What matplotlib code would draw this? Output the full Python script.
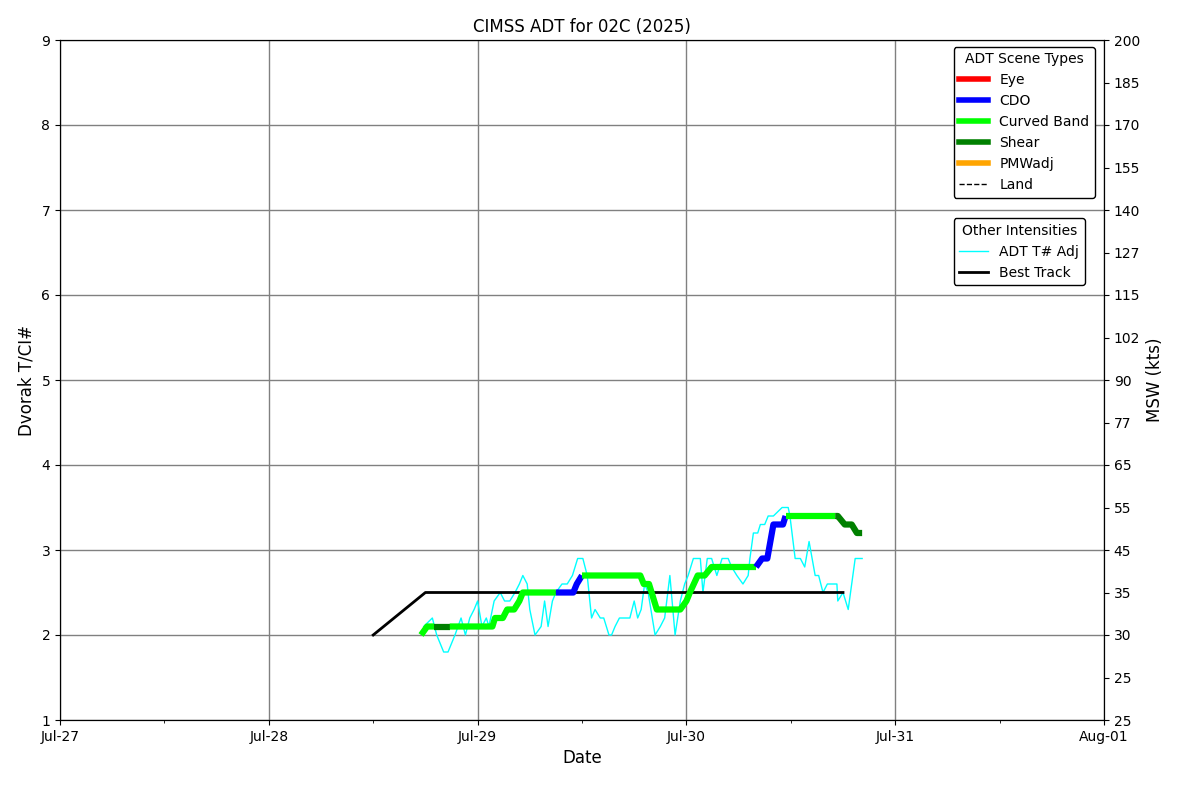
import numpy as np
import pandas as pd
import matplotlib
matplotlib.use("Agg")
import matplotlib.pyplot as plt
import matplotlib.dates as mdates
from matplotlib.lines import Line2D

# hours after 2025-07-27 00 UTC
start = pd.Timestamp("2025-07-27 00:00")

# raw ADT T# (adjusted)
tadj_hours = [41.8, 42.8, 43.3, 44.1, 44.6, 45.4, 46.1, 46.6, 47.1, 47.6, 48.0, 48.5,
              49.0, 49.3, 49.9, 50.6, 51.1, 51.7, 52.3, 52.8, 53.2, 53.7, 54.0, 54.6,
              55.3, 55.7, 56.1, 56.6, 57.0, 57.7, 58.3, 58.9, 59.2, 59.5, 60.1, 60.6,
              60.9, 61.1, 61.5, 62.1, 62.5, 63.1, 63.4, 63.8, 64.3, 64.9, 65.5, 66.0,
              66.4, 66.8, 67.2, 67.6, 68.4, 69.0, 69.5, 70.1, 70.7, 71.3, 71.8, 72.2,
              72.8, 73.6, 73.9, 74.4, 74.9, 75.5, 76.1, 76.8, 77.2, 77.8, 78.5, 79.1,
              79.3, 79.7, 80.2, 80.5, 81.0, 81.4, 82.0, 82.5, 83.0, 83.7, 83.9, 84.5,
              85.1, 85.6, 86.1, 86.8, 87.2, 87.7, 88.2, 88.9, 89.3, 89.4, 90.0, 90.6,
              91.0, 91.4, 92.2]
tadj_vals = [2.1, 2.2, 2.0, 1.8, 1.8, 2.0, 2.2, 2.0, 2.2, 2.3, 2.4, 2.1,
             2.2, 2.1, 2.4, 2.5, 2.4, 2.4, 2.5, 2.6, 2.7, 2.6, 2.3, 2.0,
             2.1, 2.4, 2.1, 2.4, 2.5, 2.6, 2.6, 2.7, 2.8, 2.9, 2.9, 2.7,
             2.4, 2.2, 2.3, 2.2, 2.2, 2.0, 2.0, 2.1, 2.2, 2.2, 2.2, 2.4,
             2.2, 2.3, 2.6, 2.5, 2.0, 2.1, 2.2, 2.7, 2.0, 2.4, 2.6, 2.7,
             2.9, 2.9, 2.5, 2.9, 2.9, 2.7, 2.9, 2.9, 2.8, 2.7, 2.6, 2.7,
             2.9, 3.2, 3.2, 3.3, 3.3, 3.4, 3.4, 3.45, 3.5, 3.5, 3.4, 2.9,
             2.9, 2.8, 3.1, 2.7, 2.7, 2.5, 2.6, 2.6, 2.6, 2.4, 2.5, 2.3,
             2.6, 2.9, 2.9]

# final CI# with scene type of the segment that starts at each point
ci_hours = [41.5, 42.2, 43.0, 44.8, 49.7, 50.0, 50.9, 51.4, 52.2, 52.8, 53.2,
            57.0, 59.0, 59.4, 60.0, 66.7, 67.1, 67.7, 68.6, 71.3, 72.0, 72.4,
            73.3, 74.1, 74.9, 80.0, 80.7, 81.3, 82.0, 83.1, 83.4, 89.1, 89.4,
            90.2, 91.0, 91.6, 92.2]
ci_vals = [2.0, 2.1, 2.1, 2.1, 2.1, 2.2, 2.2, 2.3, 2.3, 2.4, 2.5,
           2.5, 2.5, 2.6, 2.7, 2.7, 2.6, 2.6, 2.3, 2.3, 2.4, 2.5,
           2.7, 2.7, 2.8, 2.8, 2.9, 2.9, 3.3, 3.3, 3.4, 3.4, 3.4,
           3.3, 3.3, 3.2, 3.2]
ci_type = ["Curved Band", "Curved Band", "Shear", "Curved Band", "Curved Band",
           "Curved Band", "Curved Band", "Curved Band", "Curved Band", "Curved Band",
           "Curved Band", "CDO", "CDO", "CDO", "Curved Band", "Curved Band",
           "Curved Band", "Curved Band", "Curved Band", "Curved Band", "Curved Band",
           "Curved Band", "Curved Band", "Curved Band", "Curved Band", "CDO", "CDO",
           "CDO", "CDO", "CDO", "Curved Band", "Shear", "Shear", "Shear", "Shear",
           "Shear", "Shear"]

# best track, 6-hourly
bt_hours = [36, 42, 48, 54, 60, 66, 72, 78, 84, 90]
bt_vals = [2.0, 2.5, 2.5, 2.5, 2.5, 2.5, 2.5, 2.5, 2.5, 2.5]

scene_colors = {"Eye": "red", "CDO": "blue", "Curved Band": "lime",
                "Shear": "green", "PMWadj": "orange"}

msw_labels = ["25", "25", "30", "35", "45", "55", "65", "77", "90", "102",
              "115", "127", "140", "155", "170", "185", "200"]


def to_time(hours):
    return [start + pd.Timedelta(hours=h) for h in hours]


fig = plt.figure(figsize=(12, 8), dpi=100)
ax = fig.add_axes([0.05, 0.1, 0.87, 0.85])

ax.plot(to_time(tadj_hours), tadj_vals, color="cyan", lw=1, zorder=3)
ax.plot(to_time(bt_hours), bt_vals, color="black", lw=2, zorder=4)

# colored CI# runs
ci_t = to_time(ci_hours)
i = 0
n = len(ci_hours)
while i < n - 1:
    j = i
    while j < n - 1 and ci_type[j] == ci_type[i]:
        j += 1
    ax.plot(ci_t[i:j + 1], ci_vals[i:j + 1], color=scene_colors[ci_type[i]],
            lw=4.5, solid_capstyle="butt", zorder=5)
    i = j

ax.set_xlim(pd.Timestamp("2025-07-27"), pd.Timestamp("2025-08-01"))
ax.set_ylim(1, 9)
ax.set_yticks(range(1, 10))
ax.xaxis.set_major_locator(mdates.DayLocator())
ax.xaxis.set_minor_locator(mdates.HourLocator(byhour=[12]))
ax.xaxis.set_major_formatter(mdates.DateFormatter("%b-%d"))
ax.grid(True, which="major", color="gray", lw=1)
ax.set_axisbelow(True)
ax.set_xlabel("Date", fontsize=12)
ax.set_ylabel("Dvorak T/CI#", fontsize=12)
ax.set_title("CIMSS ADT for 02C (2025)", fontsize=12)

ax2 = ax.twinx()
ax2.set_ylim(1, 9)
ax2.set_yticks(np.arange(1, 9.01, 0.5))
ax2.set_yticklabels(msw_labels)
ax2.set_ylabel("MSW (kts)", fontsize=12)

scene_handles = [Line2D([], [], color=scene_colors[k], lw=4) for k in
                 ["Eye", "CDO", "Curved Band", "Shear", "PMWadj"]]
scene_handles.append(Line2D([], [], color="black", lw=1, ls="--"))
leg1 = ax2.legend(scene_handles, ["Eye", "CDO", "Curved Band", "Shear", "PMWadj", "Land"],
                  title="ADT Scene Types", loc="upper left",
                  bbox_to_anchor=(0.856, 0.990), borderaxespad=0, fontsize=10,
                  title_fontsize=10, framealpha=1, edgecolor="black",
                  handlelength=2.1)
ax2.add_artist(leg1)
other_handles = [Line2D([], [], color="cyan", lw=1), Line2D([], [], color="black", lw=2)]
ax2.legend(other_handles, ["ADT T# Adj", "Best Track"], title="Other Intensities",
           loc="upper left", bbox_to_anchor=(0.856, 0.738), borderaxespad=0,
           fontsize=10, title_fontsize=10, framealpha=1, edgecolor="black",
           handlelength=2.1)

fig.savefig("out.png", dpi=100)
